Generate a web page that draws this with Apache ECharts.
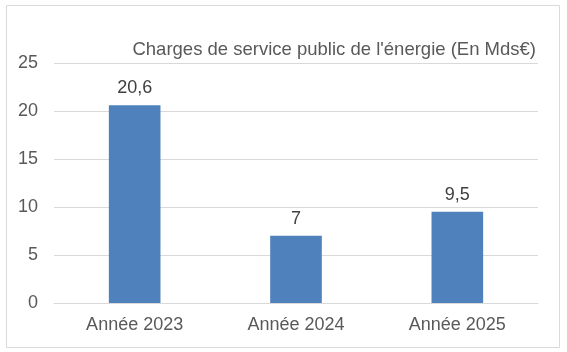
<!DOCTYPE html>
<html>
<head>
<meta charset="utf-8">
<script src="https://cdn.jsdelivr.net/npm/echarts@6/dist/echarts.min.js"></script>
<style>
  html, body { margin: 0; padding: 0; background: #fff; }
  #main { width: 567px; height: 352px; }
</style>
</head>
<body>
<div id="main"></div>
<script>
var categories = ['Année 2023', 'Année 2024', 'Année 2025'];
var values = [20.6, 7, 9.5];
var yTicks = [0, 5, 10, 15, 20, 25];

var myChart = echarts.init(document.getElementById('main'));
var font = '"Liberation Sans", Arial, sans-serif';

var option = {
    animation: false,
    graphic: [{
        type: 'rect',
        shape: { x: 6.5, y: 5.5, width: 553, height: 342 },
        style: { fill: 'none', stroke: '#d9d9d9', lineWidth: 1 }
    }],
    title: {
        text: "Charges de service public de l'énergie (En Mds€)",
        right: 26,
        top: 35,
        textStyle: { fontFamily: font, fontSize: 18.5, fontWeight: 'normal', color: '#595959' }
    },
    grid: { left: 54, right: 29, top: 63, bottom: 49 },
    xAxis: {
        type: 'category',
        data: categories,
        axisLine: { lineStyle: { color: '#d9d9d9' } },
        axisTick: { show: false },
        axisLabel: { fontFamily: font, fontSize: 18, color: '#595959', margin: 13 }
    },
    yAxis: {
        type: 'value',
        min: yTicks[0],
        max: yTicks[yTicks.length - 1],
        interval: 5,
        axisLine: { show: false },
        axisTick: { show: false },
        splitLine: { lineStyle: { color: '#d9d9d9' } },
        axisLabel: { fontFamily: font, fontSize: 18, color: '#595959', margin: 16 }
    },
    series: [{
        type: 'bar',
        data: values,
        barWidth: '32%',
        itemStyle: { color: '#4f81bd' },
        label: {
            show: true,
            position: 'top',
            distance: 8,
            fontFamily: font,
            fontSize: 18,
            color: '#404040',
            formatter: function (p) { return String(p.value).replace('.', ','); }
        }
    }]
};

myChart.setOption(option);
</script>
</body>
</html>
